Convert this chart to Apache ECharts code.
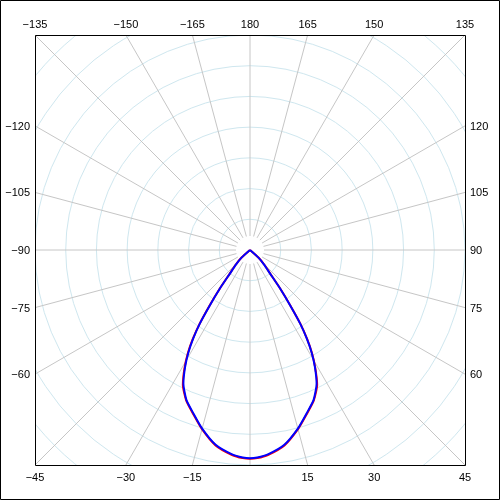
<!DOCTYPE html>
<html>
<head>
<meta charset="utf-8">
<script src="https://cdn.jsdelivr.net/npm/echarts@6/dist/echarts.min.js"></script>
<style>
  html, body { margin: 0; padding: 0; background: #fff; }
  #chart { width: 500px; height: 500px; }
</style>
</head>
<body>
<div id="chart"></div>
<script>
// curve data: angle (deg, 0 = down, + to the right) and intensity
const angles = [-52, -48, -44, -40.5, -38, -36, -34.3, -32.7, -31, -29, -26.5, -23, -19, -15, -10, -5, -2, 0,
  2, 5, 10, 15, 19, 23, 26.5, 29, 31, 32.7, 34.3, 36, 38, 40.5, 44, 48, 52];
const blueValues = [0, 18, 33, 50, 80, 111, 145, 171, 195, 218, 243, 265, 282, 301, 322, 334, 338, 339,
  338, 334, 322, 301, 282, 265, 243, 218, 195, 171, 145, 111, 80, 50, 33, 18, 0];
const redValues = [0, 19, 34, 51, 81, 113, 146, 173, 197, 220, 245, 266, 283, 302, 323, 335, 339, 340,
  339, 335, 323, 302, 283, 266, 245, 219, 196, 172, 146, 112, 81, 51, 34, 19, 0];

// tick labels around the box
const topTicks = [-135, -150, -165, 180, 165, 150, 135];
const bottomTicks = [-45, -30, -15, 15, 30, 45];
const leftTicks = [-120, -105, -90, -75, -60];
const rightTicks = [120, 105, 90, 75, 60];

const radiusMax = 500;
const radiusStep = 50;

const CX = 250, CY = 250, HALF = 215;
const stepPx = HALF / 7;
const outerPx = stepPx * radiusMax / radiusStep;

function fmt(v) {
  return v < 0 ? "\u2212" + Math.abs(v) : String(v);
}

function labelFor(a) {
  const r = a * Math.PI / 180;
  const dx = Math.sin(r), dy = Math.cos(r);
  const t = HALF / Math.max(Math.abs(dx), Math.abs(dy));
  const px = CX + dx * t, py = CY + dy * t;
  let x = px, y = py, align = "center";
  if (Math.abs(dy) >= Math.abs(dx) - 1e-9) {
    y = dy < 0 ? 25 : 478;
  } else if (dx < 0) {
    x = 30; align = "right"; y = py + 1;
  } else {
    x = 470; align = "left"; y = py + 1;
  }
  return {
    type: "text",
    z: 110,
    style: {
      text: fmt(a), x: x, y: y, align: align, verticalAlign: "middle",
      font: '11px "Liberation Sans", Arial, sans-serif', fill: "#000"
    }
  };
}

const graphics = [
  { type: "rect", z: 100, shape: { x: 0, y: 0, width: 500, height: 35 }, style: { fill: "#fff" } },
  { type: "rect", z: 100, shape: { x: 0, y: 466, width: 500, height: 34 }, style: { fill: "#fff" } },
  { type: "rect", z: 100, shape: { x: 0, y: 0, width: 35, height: 500 }, style: { fill: "#fff" } },
  { type: "rect", z: 100, shape: { x: 466, y: 0, width: 34, height: 500 }, style: { fill: "#fff" } },
  { type: "rect", z: 105, shape: { x: 35.5, y: 35.5, width: 430, height: 430 },
    style: { fill: "none", stroke: "#000", lineWidth: 1 } },
  { type: "rect", z: 105, shape: { x: 0.5, y: 0.5, width: 499, height: 499 },
    style: { fill: "none", stroke: "#000", lineWidth: 1 } }
];
[].concat(topTicks, bottomTicks, leftTicks, rightTicks).forEach(a => graphics.push(labelFor(a)));

const chart = echarts.init(document.getElementById("chart"), null, { renderer: "canvas" });
chart.setOption({
  animation: false,
  backgroundColor: "#fff",
  polar: [
    { center: [CX, CY], radius: [14, outerPx] },
    { center: [CX, CY], radius: outerPx }
  ],
  angleAxis: [
    {
      polarIndex: 0, type: "value", min: -180, max: 180, interval: 15,
      startAngle: 90, clockwise: false,
      axisLine: { show: false }, axisTick: { show: false }, axisLabel: { show: false },
      splitLine: { show: true, lineStyle: { color: "#c6c6c6", width: 1 } }
    },
    {
      polarIndex: 1, type: "value", min: -180, max: 180, interval: 15,
      startAngle: 90, clockwise: false,
      axisLine: { show: false }, axisTick: { show: false }, axisLabel: { show: false },
      splitLine: { show: false }
    }
  ],
  radiusAxis: [
    {
      polarIndex: 0, type: "value", min: 0, max: 1,
      axisLine: { show: false }, axisTick: { show: false }, axisLabel: { show: false },
      splitLine: { show: false }
    },
    {
      polarIndex: 1, type: "value", min: 0, max: radiusMax, interval: radiusStep,
      axisLine: { show: false }, axisTick: { show: false }, axisLabel: { show: false },
      splitLine: { show: true, lineStyle: { color: "#cfe7ef", width: 1 } }
    }
  ],
  series: [
    {
      type: "line", coordinateSystem: "polar", polarIndex: 1,
      data: redValues.map((v, i) => [v, angles[i]]),
      showSymbol: false, smooth: 0.2,
      lineStyle: { color: "#ff0000", width: 2 }
    },
    {
      type: "line", coordinateSystem: "polar", polarIndex: 1,
      data: blueValues.map((v, i) => [v, angles[i]]),
      showSymbol: false, smooth: 0.2,
      lineStyle: { color: "#0000ff", width: 2 }
    }
  ],
  graphic: graphics
});
</script>
</body>
</html>
